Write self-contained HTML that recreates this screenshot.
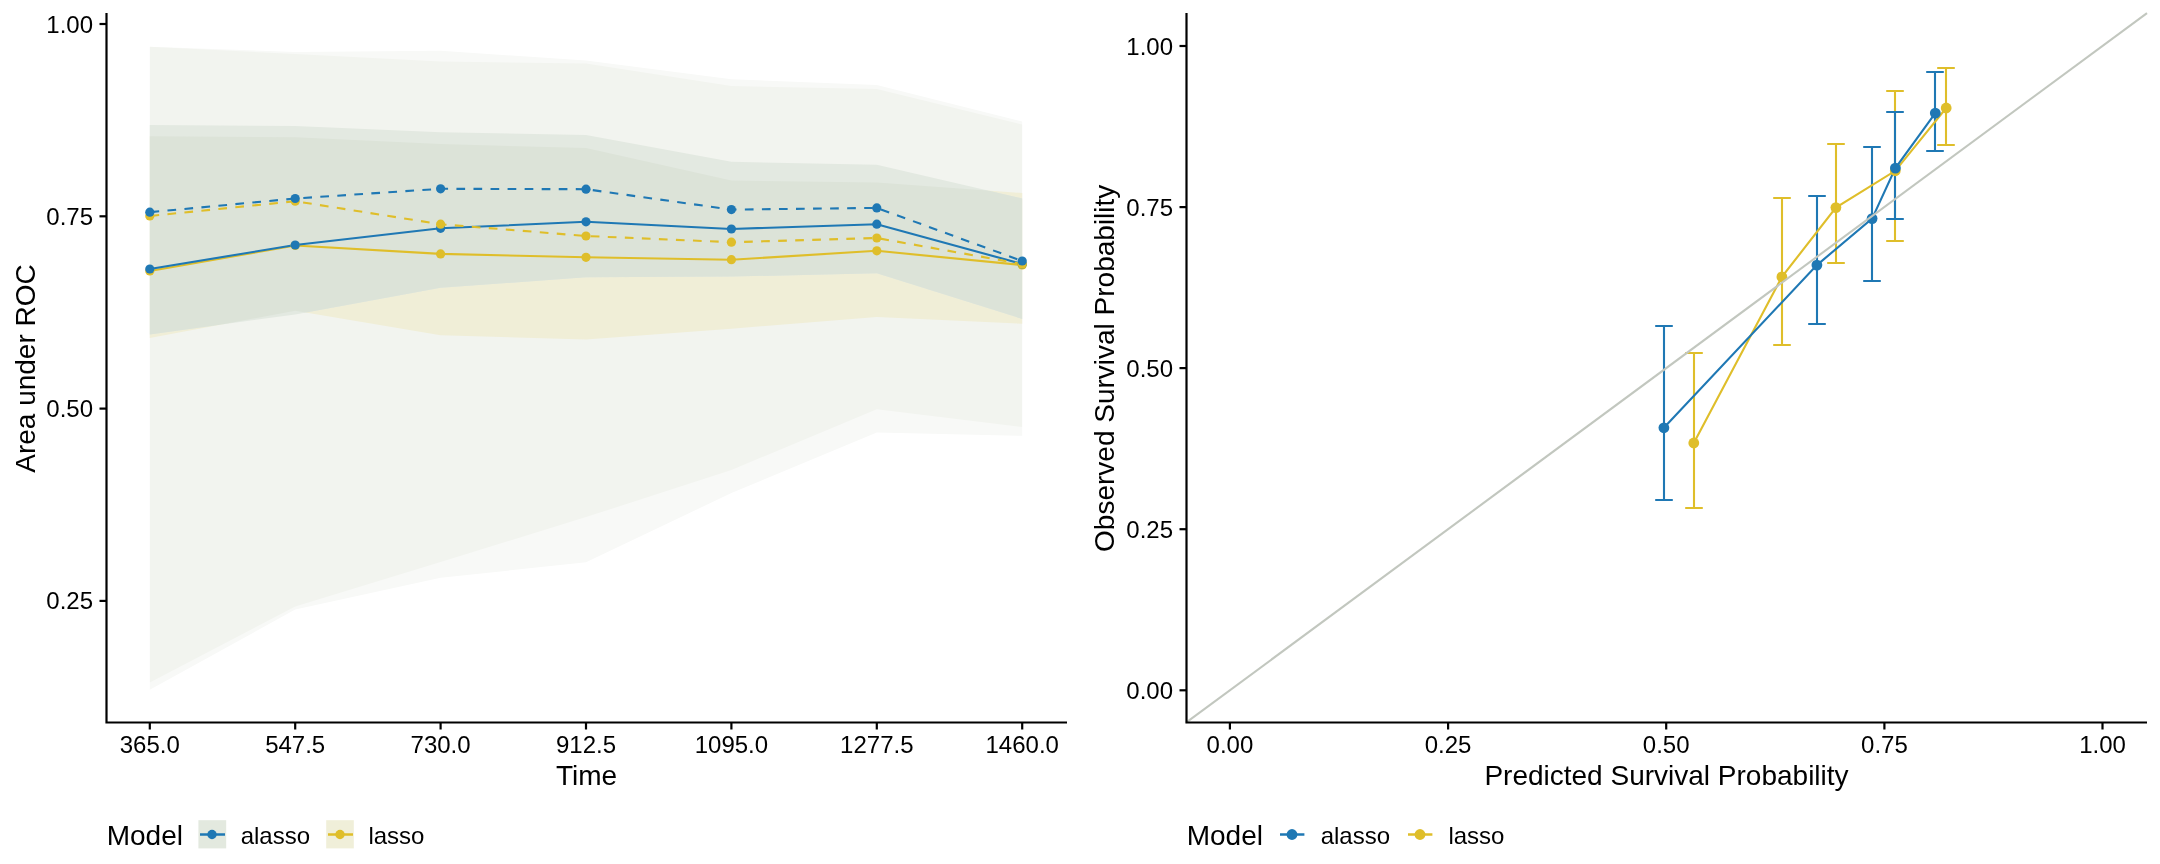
<!DOCTYPE html><html><head><meta charset="utf-8"><style>html,body{margin:0;padding:0;background:#fff;overflow:hidden}svg{display:block;will-change:transform}text{font-family:"Liberation Sans",sans-serif;fill:#000}</style></head><body>
<svg width="2160" height="864" viewBox="0 0 2160 864">
<rect width="2160" height="864" fill="#fff"/>
<defs><clipPath id="cOL"><polygon points="149.8,46.7 295.2,54 440.6,61.5 586,63.5 731.4,86 876.8,89 1022.2,124.5 1022.2,427 876.8,409.2 731.4,470 586,517.1 440.6,562 295.2,606.5 149.8,682.5"/></clipPath><clipPath id="cIL"><polygon points="149.8,136.3 295.2,137.2 440.6,144.1 586,148 731.4,180.5 876.8,182.5 1022.2,193 1022.2,323.8 876.8,316.9 731.4,328.7 586,339.5 440.6,335.2 295.2,310.7 149.8,337.9"/></clipPath></defs>
<polygon points="149.8,46.7 295.2,54 440.6,61.5 586,63.5 731.4,86 876.8,89 1022.2,124.5 1022.2,427 876.8,409.2 731.4,470 586,517.1 440.6,562 295.2,606.5 149.8,682.5" fill="#f8f9f7"/>
<polygon points="149.8,46.7 295.2,52 440.6,50.7 586,60.5 731.4,79.2 876.8,85.1 1022.2,121.5 1022.2,435.8 876.8,432.4 731.4,493 586,562.3 440.6,577.8 295.2,609.6 149.8,689.8" fill="#f8f9f7"/>
<polygon points="149.8,46.7 295.2,52 440.6,50.7 586,60.5 731.4,79.2 876.8,85.1 1022.2,121.5 1022.2,435.8 876.8,432.4 731.4,493 586,562.3 440.6,577.8 295.2,609.6 149.8,689.8" fill="#f2f4ef" clip-path="url(#cOL)"/>
<polygon points="149.8,136.3 295.2,137.2 440.6,144.1 586,148 731.4,180.5 876.8,182.5 1022.2,193 1022.2,323.8 876.8,316.9 731.4,328.7 586,339.5 440.6,335.2 295.2,310.7 149.8,337.9" fill="#f0eed7"/>
<polygon points="149.8,125 295.2,126 440.6,132.3 586,134.9 731.4,161.8 876.8,164.8 1022.2,198.5 1022.2,318.9 876.8,273.2 731.4,276.6 586,277.2 440.6,287.8 295.2,314.4 149.8,334.4" fill="#e3e9e1"/>
<polygon points="149.8,125 295.2,126 440.6,132.3 586,134.9 731.4,161.8 876.8,164.8 1022.2,198.5 1022.2,318.9 876.8,273.2 731.4,276.6 586,277.2 440.6,287.8 295.2,314.4 149.8,334.4" fill="#dce3d8" clip-path="url(#cIL)"/>
<polyline points="149.8,271 295.2,245.5 440.6,253.9 586,257.3 731.4,259.7 876.8,250.8 1022.2,265" fill="none" stroke="#dfbe2a" stroke-width="2.1" stroke-linejoin="round"/>
<polyline points="149.8,269 295.2,245 440.6,228.3 586,221.8 731.4,229 876.8,224.2 1022.2,264" fill="none" stroke="#1f78b4" stroke-width="2.1" stroke-linejoin="round"/>
<polyline points="149.8,216 295.2,201.2 440.6,224.2 586,236 731.4,242.2 876.8,238 1022.2,264" fill="none" stroke="#dfbe2a" stroke-width="2.1" stroke-linejoin="round" stroke-dasharray="8.7,8.35" stroke-dashoffset="-0.7"/>
<polyline points="149.8,212.2 295.2,198.5 440.6,188.8 586,189.2 731.4,209.6 876.8,207.9 1022.2,261" fill="none" stroke="#1f78b4" stroke-width="2.1" stroke-linejoin="round" stroke-dasharray="8.7,8.35" stroke-dashoffset="-0.7"/>
<circle cx="149.8" cy="271" r="4.6" fill="#dfbe2a"/>
<circle cx="295.2" cy="245.5" r="4.6" fill="#dfbe2a"/>
<circle cx="440.6" cy="253.9" r="4.6" fill="#dfbe2a"/>
<circle cx="586" cy="257.3" r="4.6" fill="#dfbe2a"/>
<circle cx="731.4" cy="259.7" r="4.6" fill="#dfbe2a"/>
<circle cx="876.8" cy="250.8" r="4.6" fill="#dfbe2a"/>
<circle cx="1022.2" cy="265" r="4.6" fill="#dfbe2a"/>
<circle cx="149.8" cy="269" r="4.6" fill="#1f78b4"/>
<circle cx="295.2" cy="245" r="4.6" fill="#1f78b4"/>
<circle cx="440.6" cy="228.3" r="4.6" fill="#1f78b4"/>
<circle cx="586" cy="221.8" r="4.6" fill="#1f78b4"/>
<circle cx="731.4" cy="229" r="4.6" fill="#1f78b4"/>
<circle cx="876.8" cy="224.2" r="4.6" fill="#1f78b4"/>
<circle cx="1022.2" cy="264" r="4.6" fill="#1f78b4"/>
<circle cx="149.8" cy="216" r="4.6" fill="#dfbe2a"/>
<circle cx="295.2" cy="201.2" r="4.6" fill="#dfbe2a"/>
<circle cx="440.6" cy="224.2" r="4.6" fill="#dfbe2a"/>
<circle cx="586" cy="236" r="4.6" fill="#dfbe2a"/>
<circle cx="731.4" cy="242.2" r="4.6" fill="#dfbe2a"/>
<circle cx="876.8" cy="238" r="4.6" fill="#dfbe2a"/>
<circle cx="1022.2" cy="264" r="4.6" fill="#dfbe2a"/>
<circle cx="149.8" cy="212.2" r="4.6" fill="#1f78b4"/>
<circle cx="295.2" cy="198.5" r="4.6" fill="#1f78b4"/>
<circle cx="440.6" cy="188.8" r="4.6" fill="#1f78b4"/>
<circle cx="586" cy="189.2" r="4.6" fill="#1f78b4"/>
<circle cx="731.4" cy="209.6" r="4.6" fill="#1f78b4"/>
<circle cx="876.8" cy="207.9" r="4.6" fill="#1f78b4"/>
<circle cx="1022.2" cy="261" r="4.6" fill="#1f78b4"/>
<g stroke="#000" stroke-width="2.2" fill="none">
<path d="M106.5,13 V722.5 H1067"/>
<path d="M99.5,24 H106.5"/>
<path d="M99.5,216.3 H106.5"/>
<path d="M99.5,408.6 H106.5"/>
<path d="M99.5,600.9 H106.5"/>
<path d="M149.8,722.5 V729.5"/>
<path d="M295.2,722.5 V729.5"/>
<path d="M440.6,722.5 V729.5"/>
<path d="M586,722.5 V729.5"/>
<path d="M731.4,722.5 V729.5"/>
<path d="M876.8,722.5 V729.5"/>
<path d="M1022.2,722.5 V729.5"/>
</g>
<g font-size="24" text-anchor="end">
<text x="93" y="32.5">1.00</text>
<text x="93" y="224.8">0.75</text>
<text x="93" y="417.1">0.50</text>
<text x="93" y="609.4">0.25</text>
</g>
<g font-size="24" text-anchor="middle">
<text x="149.8" y="753">365.0</text>
<text x="295.2" y="753">547.5</text>
<text x="440.6" y="753">730.0</text>
<text x="586" y="753">912.5</text>
<text x="731.4" y="753">1095.0</text>
<text x="876.8" y="753">1277.5</text>
<text x="1022.2" y="753">1460.0</text>
</g>
<text x="586.5" y="785" font-size="28" text-anchor="middle">Time</text>
<text transform="translate(34.7,368.5) rotate(-90)" font-size="28" text-anchor="middle">Area under ROC</text>
<path d="M1685.2,353 H1702.8 M1694,353 V508 M1685.2,508 H1702.8" stroke="#dfbe2a" stroke-width="2.1" fill="none"/>
<path d="M1773.2,198 H1790.8 M1782,198 V345 M1773.2,345 H1790.8" stroke="#dfbe2a" stroke-width="2.1" fill="none"/>
<path d="M1827.2,144 H1844.8 M1836,144 V263 M1827.2,263 H1844.8" stroke="#dfbe2a" stroke-width="2.1" fill="none"/>
<path d="M1886.2,91 H1903.8 M1895,91 V241 M1886.2,241 H1903.8" stroke="#dfbe2a" stroke-width="2.1" fill="none"/>
<path d="M1937.2,68 H1954.8 M1946,68 V145 M1937.2,145 H1954.8" stroke="#dfbe2a" stroke-width="2.1" fill="none"/>
<path d="M1655.2,326 H1672.8 M1664,326 V500 M1655.2,500 H1672.8" stroke="#1f78b4" stroke-width="2.1" fill="none"/>
<path d="M1808.2,196 H1825.8 M1817,196 V324 M1808.2,324 H1825.8" stroke="#1f78b4" stroke-width="2.1" fill="none"/>
<path d="M1863.2,147 H1880.8 M1872,147 V281 M1863.2,281 H1880.8" stroke="#1f78b4" stroke-width="2.1" fill="none"/>
<path d="M1886.2,112 H1903.8 M1895,112 V219 M1886.2,219 H1903.8" stroke="#1f78b4" stroke-width="2.1" fill="none"/>
<path d="M1926.2,72 H1943.8 M1935,72 V151 M1926.2,151 H1943.8" stroke="#1f78b4" stroke-width="2.1" fill="none"/>
<polyline points="1693.8,443 1781.9,276.9 1835.9,207.6 1895.3,170.8 1946.2,108" fill="none" stroke="#dfbe2a" stroke-width="2.1"/>
<polyline points="1663.9,427.8 1816.9,265.1 1872.1,218.6 1895.4,168.1 1935.3,113.1" fill="none" stroke="#1f78b4" stroke-width="2.1"/>
<circle cx="1693.8" cy="443" r="5.4" fill="#dfbe2a"/>
<circle cx="1781.9" cy="276.9" r="5.4" fill="#dfbe2a"/>
<circle cx="1835.9" cy="207.6" r="5.4" fill="#dfbe2a"/>
<circle cx="1895.3" cy="170.8" r="5.4" fill="#dfbe2a"/>
<circle cx="1946.2" cy="108" r="5.4" fill="#dfbe2a"/>
<circle cx="1663.9" cy="427.8" r="5.4" fill="#1f78b4"/>
<circle cx="1816.9" cy="265.1" r="5.4" fill="#1f78b4"/>
<circle cx="1872.1" cy="218.6" r="5.4" fill="#1f78b4"/>
<circle cx="1895.4" cy="168.1" r="5.4" fill="#1f78b4"/>
<circle cx="1935.3" cy="113.1" r="5.4" fill="#1f78b4"/>
<line x1="1186" y1="722.7" x2="2147" y2="13.1" stroke="#c2c7bf" stroke-width="2.1"/>
<g stroke="#000" stroke-width="2.2" fill="none">
<path d="M1186.5,13 V722.5 H2147"/>
<path d="M1179.5,690.3 H1186.5"/>
<path d="M1179.5,529.2 H1186.5"/>
<path d="M1179.5,368.1 H1186.5"/>
<path d="M1179.5,207.1 H1186.5"/>
<path d="M1179.5,46 H1186.5"/>
<path d="M1229.9,722.5 V729.5"/>
<path d="M1448.1,722.5 V729.5"/>
<path d="M1666.2,722.5 V729.5"/>
<path d="M1884.4,722.5 V729.5"/>
<path d="M2102.5,722.5 V729.5"/>
</g>
<g font-size="24" text-anchor="end">
<text x="1173" y="698.8">0.00</text>
<text x="1173" y="537.7">0.25</text>
<text x="1173" y="376.6">0.50</text>
<text x="1173" y="215.6">0.75</text>
<text x="1173" y="54.5">1.00</text>
</g>
<g font-size="24" text-anchor="middle">
<text x="1229.9" y="753">0.00</text>
<text x="1448.1" y="753">0.25</text>
<text x="1666.2" y="753">0.50</text>
<text x="1884.4" y="753">0.75</text>
<text x="2102.5" y="753">1.00</text>
</g>
<text x="1666.5" y="785" font-size="28" text-anchor="middle">Predicted Survival Probability</text>
<text transform="translate(1114,368.3) rotate(-90)" font-size="28" text-anchor="middle">Observed Survival Probability</text>
<text x="106.7" y="845" font-size="28">Model</text>
<rect x="198.4" y="820.2" width="27.8" height="28.2" fill="#e3e9df"/>
<rect x="326.2" y="820.2" width="27.6" height="28.2" fill="#f0efd9"/>
<path d="M200,834.5 H225" stroke="#1f78b4" stroke-width="2.5"/><circle cx="212" cy="834.5" r="4.7" fill="#1f78b4"/>
<path d="M328,834.5 H353" stroke="#dfbe2a" stroke-width="2.5"/><circle cx="340" cy="834.5" r="4.7" fill="#dfbe2a"/>
<text x="240.7" y="844" font-size="24">alasso</text>
<text x="368.4" y="844" font-size="24">lasso</text>
<text x="1186.7" y="845" font-size="28">Model</text>
<path d="M1280,834.5 H1304.4" stroke="#1f78b4" stroke-width="2.5"/><circle cx="1292" cy="834.5" r="5.4" fill="#1f78b4"/>
<path d="M1408,834.5 H1432.4" stroke="#dfbe2a" stroke-width="2.5"/><circle cx="1420" cy="834.5" r="5.4" fill="#dfbe2a"/>
<text x="1320.7" y="844" font-size="24">alasso</text>
<text x="1448.4" y="844" font-size="24">lasso</text>
</svg></body></html>
